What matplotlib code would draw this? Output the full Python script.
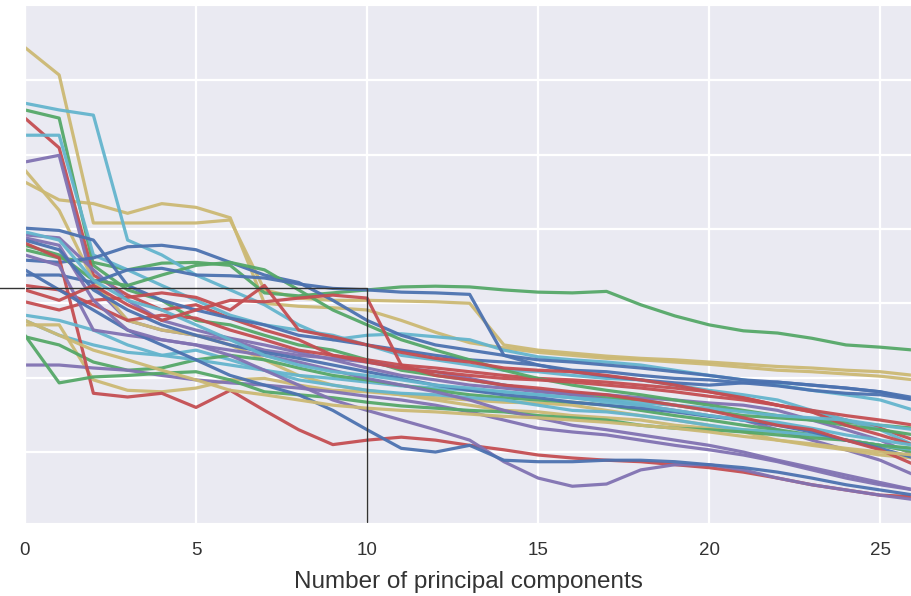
import matplotlib
matplotlib.use("Agg")
import matplotlib.pyplot as plt
import seaborn as sns

sns.set_style("darkgrid")
plt.rcParams['font.family'] = ['Liberation Sans', 'DejaVu Sans']

# old seaborn "deep" colours
BLUE, GREEN, RED, PURPLE, YELLOW, CYAN = ("#4C72B0", "#55A868", "#C44E52",
                                          "#8172B2", "#CCB974", "#64B5CD")

n_components = list(range(27))

y_top = [64.4,60.7,40.8,40.8,40.8,40.8,41.2,31.8,30.7,30.4,30.4,30.3,30.2,30.0,24.4,23.7,23.3,22.9,22.6,22.4,22.1,21.8,21.5,21.3,21.0,20.8,20.3]
y_a = [46.3,43.9,43.4,42.1,43.4,42.9,41.5,30.0,29.6,29.4,29.1,27.7,26.1,24.7,24.0,23.4,23.0,22.6,22.4,22.1,21.8,21.4,21.0,20.8,20.5,20.2,19.7]
g_top = [37.2,36.1,35.5,34.5,35.4,35.5,35.1,31.4,31.0,31.4,31.8,32.2,32.3,32.2,31.8,31.5,31.4,31.6,29.8,28.3,27.1,26.3,26.0,25.3,24.4,24.1,23.7]
c_top = [56.9,56.0,55.3,38.5,36.5,33.8,31.8,29.8,27.1,25.1,25.7,25.9,25.5,25.1,23.7,22.8,22.4,22.1,21.7,21.0,20.3,19.7,19.0,18.3,17.7,17.0,15.6]
g_2 = [56.0,54.9,35.1,31.8,30.4,27.7,27.1,25.7,24.4,23.7,22.4,21.0,20.3,19.7,19.0,18.3,17.7,17.3,17.0,16.3,15.6,14.9,14.6,14.3,14.0,13.6,13.2]
r_1 = [54.9,50.9,33.8,31.1,29.1,29.8,28.0,26.4,25.1,23.0,22.4,21.7,21.3,20.8,20.3,19.9,19.7,19.4,19.0,18.6,18.1,17.3,16.3,15.4,14.3,13.2,11.6]
c_2 = [52.6,52.6,36.5,34.5,32.4,30.4,28.4,27.1,26.4,25.7,24.4,23.0,22.4,21.7,21.0,20.8,20.3,19.9,19.7,19.0,18.3,17.7,17.0,15.6,14.3,13.0,10.9]
p_1 = [49.0,49.9,32.4,27.7,26.4,25.7,25.1,23.7,23.0,22.6,22.1,21.3,20.8,19.9,19.0,18.3,17.9,17.7,17.3,17.0,16.6,16.3,15.6,14.3,13.0,11.6,9.6]
y_3 = [47.9,42.5,33.1,27.7,26.4,25.7,24.4,22.4,20.3,19.0,18.3,17.7,17.0,16.3,15.6,15.4,14.9,14.6,14.3,13.6,13.2,13.0,12.7,12.3,11.6,10.9,10.0]
b_1 = [40.1,39.8,38.5,32.4,30.4,29.1,28.0,27.1,25.7,25.1,24.4,23.7,23.0,22.4,22.1,21.7,21.0,20.8,20.3,19.9,19.7,19.3,18.9,18.3,17.9,17.7,17.0]
p_2 = [39.2,38.8,34.5,30.4,27.7,26.4,25.3,24.4,23.4,22.4,21.3,20.3,19.7,19.0,18.6,18.1,17.7,17.0,16.3,15.6,14.9,14.3,13.0,11.6,10.3,8.9,6.9]
b_2 = [35.8,35.5,36.1,37.6,37.8,37.2,35.5,33.8,32.8,30.4,27.7,25.7,24.4,23.7,23.0,22.4,22.1,21.7,21.3,20.8,20.3,19.7,19.4,19.0,18.6,18.1,17.3]
g_3 = [37.8,36.5,33.1,32.4,33.8,35.1,35.5,34.5,31.8,29.1,27.1,25.1,23.7,22.4,21.0,19.9,19.0,18.3,17.7,17.0,16.3,15.6,14.9,14.3,13.6,13.0,12.3]
b_top = [33.8,33.8,32.8,34.5,34.7,33.8,33.7,33.4,32.6,32.0,31.8,31.5,31.4,31.2,23.0,21.7,20.8,20.2,19.7,19.3,19.0,19.3,19.4,19.0,18.6,18.1,17.0]
r_2 = [30.2,29.1,30.4,30.8,31.4,30.8,29.1,32.4,26.4,25.5,24.4,23.4,22.6,22.1,21.3,21.0,20.8,20.3,19.7,19.0,18.1,17.3,16.3,15.4,13.6,12.3,10.9]
c_3 = [27.7,25.7,24.4,23.4,23.0,23.7,22.4,21.0,20.3,19.9,19.4,18.9,18.6,18.3,18.1,17.7,17.3,17.0,16.6,16.3,15.9,15.4,14.9,14.6,14.3,13.6,13.0]
y_4 = [27.1,27.1,19.7,18.3,18.1,18.6,19.7,19.9,19.0,18.3,18.1,17.7,17.3,17.0,16.7,16.6,16.3,15.6,14.9,14.3,13.6,12.7,11.6,10.9,10.3,9.6,9.2]
g_4 = [25.5,24.4,22.1,21.0,21.3,22.4,23.0,22.4,21.3,20.3,19.7,19.0,18.3,17.7,17.3,17.0,16.7,16.3,15.6,14.9,14.3,13.6,13.0,12.3,11.6,10.9,10.0]
p_3 = [21.7,21.7,21.3,21.0,20.3,19.7,19.3,19.0,18.6,18.1,17.5,17.0,16.3,15.4,14.3,13.2,12.7,12.3,11.6,10.9,10.3,9.6,8.7,7.6,6.5,5.6,4.9]
r_3 = [38.1,36.1,17.9,17.4,17.9,16.0,18.3,15.6,13.0,11.0,11.6,12.0,11.6,10.9,10.3,9.6,9.2,8.9,8.7,8.3,7.9,7.3,6.5,5.6,4.9,4.2,4.0]
r_4 = [32.4,31.8,29.8,27.7,28.4,28.0,26.4,25.1,23.7,23.0,22.1,21.3,20.8,20.3,19.9,19.7,19.4,19.0,18.6,18.1,17.5,17.0,16.3,15.6,14.9,14.3,13.6]
c_5 = [28.4,27.7,26.4,24.4,23.0,22.4,21.7,21.0,19.7,19.0,18.3,17.9,17.7,17.3,17.0,16.3,15.6,15.4,14.9,14.3,13.6,13.0,12.7,12.3,11.6,10.9,10.3]
g_5 = [25.7,19.3,20.1,20.3,20.6,20.8,19.7,18.1,17.7,17.3,16.7,16.2,15.9,15.6,15.4,14.9,14.6,14.3,13.6,13.2,13.0,12.7,12.3,11.9,11.6,10.9,10.5]
p_4 = [36.5,35.1,26.4,25.7,25.1,24.4,23.0,21.0,19.0,17.0,15.6,14.3,13.0,11.6,8.7,6.5,5.4,5.7,7.6,8.3,8.3,7.6,6.5,5.6,4.9,4.2,3.6]
b_3 = [34.5,31.8,29.1,26.4,24.4,22.4,20.3,19.0,17.7,15.6,13.0,10.5,10.0,10.9,8.9,8.7,8.7,8.9,8.9,8.7,8.3,7.9,7.3,6.5,5.6,4.9,4.2]
p_5 = [38.8,37.8,30.4,26.4,25.1,24.4,23.7,23.0,22.1,21.0,19.9,19.0,18.1,17.0,15.6,14.6,13.6,13.0,12.3,11.6,10.9,10.0,8.9,7.9,6.9,5.9,4.9]
b_4 = [38.5,37.2,31.8,29.1,27.1,25.7,24.4,23.4,22.6,21.7,20.8,19.9,19.0,18.3,17.7,17.3,16.7,16.3,15.9,15.4,14.8,14.3,13.6,12.7,11.6,10.5,9.2]
c_6 = [39.6,38.5,33.1,30.4,29.1,27.1,25.1,23.0,21.7,20.8,20.3,19.7,19.0,18.6,18.1,17.7,17.3,16.7,16.3,15.6,14.9,14.3,14.0,13.2,12.3,11.6,10.9]
r_5 = [31.8,30.4,32.4,29.8,27.7,29.1,30.4,30.2,30.7,31.1,30.7,21.7,20.3,19.7,19.0,18.6,18.1,17.7,17.0,16.3,15.6,14.6,13.6,13.0,11.6,10.3,8.3]
y_5 = [27.7,25.7,23.7,22.4,21.0,19.7,18.3,17.7,17.0,16.3,15.9,15.6,15.4,15.1,14.8,14.6,14.3,14.0,13.6,13.2,12.7,12.1,11.6,11.1,10.5,10.0,9.6]

series = [y_top, y_a, g_top, c_top, g_2, r_1, c_2, p_1, y_3, b_1, p_2, b_2, g_3,
          b_top, r_2, c_3, y_4, g_4, p_3, r_3, r_4, c_5, g_5, p_4, b_3, p_5,
          b_4, c_6, r_5, y_5]
colors = [YELLOW, YELLOW, GREEN, CYAN, GREEN, RED, CYAN, PURPLE, YELLOW, BLUE,
          PURPLE, BLUE, GREEN, BLUE, RED, CYAN, YELLOW, GREEN, PURPLE, RED, RED,
          CYAN, GREEN, PURPLE, BLUE, PURPLE, BLUE, CYAN, RED, YELLOW]

# marker line: threshold value and chosen number of components
cut_x = 10
cut_y = 32.0

fig = plt.figure(figsize=(9.11, 5.96), dpi=100)
ax = fig.add_axes([0.0274, 0.1225, 0.9726, 0.869])

for vals, col in zip(series, colors):
    ax.plot(n_components, vals, color=col, lw=2.3, alpha=0.95)

ax.set_xlim(0, 25.9)
ax.set_ylim(0.46, 70.1)
ax.set_xticks([0, 5, 10, 15, 20, 25])
ax.set_yticks([10, 20, 30, 40, 50, 60])
ax.set_yticklabels([])
ax.tick_params(axis='x', labelsize=13.5, labelcolor='#333333', pad=10.5)
ax.tick_params(axis='y', length=0)
ax.grid(True, color='white', lw=1.6)
ax.set_xlabel("Number of principal components", fontsize=17.5, color='#333333', labelpad=8)

ax.plot([-0.75, cut_x, cut_x], [cut_y, cut_y, 0.6], color='#333333', lw=1, clip_on=False)

fig.savefig("out.png", dpi=100)
